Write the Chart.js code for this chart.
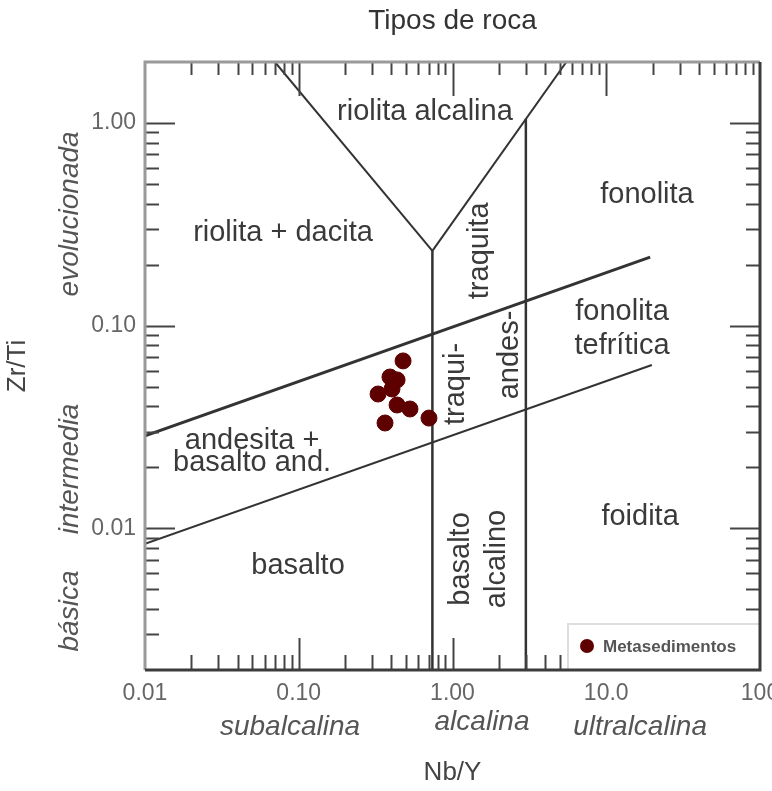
<!DOCTYPE html>
<html><head><meta charset="utf-8">
<script src="https://cdn.jsdelivr.net/npm/chart.js@4/dist/chart.umd.min.js"></script>
<style>html,body{margin:0;padding:0;background:#fff}canvas{display:block}</style>
</head><body>
<canvas id="c" width="772" height="791"></canvas>
<script>
// ---- data ----
const xTickValues = [0.01, 0.1, 1, 10, 100];
const xTickLabels = ['0.01', '0.10', '1.00', '10.0', '100'];
const yTickValues = [0.01, 0.1, 1];
const yTickLabels = ['0.01', '0.10', '1.00'];

const seriesName = 'Metasedimentos';
const sampleNbY  = [0.477, 0.392, 0.436, 0.328, 0.404, 0.436, 0.529, 0.703, 0.364];
const sampleZrTi = [0.0670, 0.0558, 0.0540, 0.0460, 0.0487, 0.0406, 0.0388, 0.0350, 0.0331];

// field boundaries (Nb/Y, Zr/Ti)
const vLeftX   = [0.070, 0.74];  const vLeftY   = [2.0, 0.234];
const vRightX  = [0.74, 5.5];    const vRightY  = [0.234, 2.0];
const alkX     = [0.74, 0.74];   const alkY     = [0.234, 0.002];
const ultraX   = [3.0, 3.0];     const ultraY   = [1.05, 0.002];
const upperX   = [0.01, 19.3];   const upperY   = [0.0286, 0.218];
const lowerX   = [0.01, 19.8];   const lowerY   = [0.00838, 0.064];

// field names (text, Nb/Y, Zr/Ti, rotated)
const fieldText = ['riolita alcalina', 'riolita + dacita', 'fonolita', 'traquita', 'andes-', 'traqui-',
  'fonolita', 'tefrítica', 'andesita +', 'basalto and.', 'basalto', 'basalto', 'alcalino', 'foidita'];
const fieldX = [0.662, 0.079, 18.4, 1.51, 2.37, 1.054, 12.66, 12.66, 0.0497, 0.0497, 0.0989, 1.135, 1.946, 16.6];
const fieldY = [1.133, 0.2867, 0.441, 0.234, 0.0717, 0.0516, 0.1168, 0.0794, 0.0270, 0.0210, 0.00652, 0.00706, 0.00706, 0.01138];
const fieldRot = [0, 0, 0, 1, 1, 1, 0, 0, 0, 0, 0, 1, 1, 0];

// axis class names
const yClassText = ['evolucionada', 'intermedia', 'básica'];
const yClassY = [0.356, 0.01964, 0.00391];
const xClassText = ['subalcalina', 'alcalina', 'ultralcalina'];
const xClassX = [0.0877, 1.556, 16.6];

// ---- build ----
const pts = (xs, ys) => xs.map((x, i) => ({x, y: ys[i]}));
const lineDs = (xs, ys, w) => ({type: 'line', data: pts(xs, ys), borderColor: '#333', borderWidth: w,
  pointRadius: 0, pointHoverRadius: 0, fill: false, tension: 0, showLine: true, order: 2});

const FONT = "'Liberation Sans', Arial, sans-serif";

const ticksInside = {
  id: 'ticksInside',
  afterDatasetsDraw(chart) {
    const {ctx, chartArea: a, scales: {x, y}} = chart;
    ctx.save();
    ctx.strokeStyle = '#444';
    ctx.lineWidth = 2;
    const decadesX = [0.01, 0.1, 1, 10];
    decadesX.forEach(d => {
      for (let m = 1; m <= 9; m++) {
        const v = d * m;
        if (v <= x.min || v >= x.max) continue;
        const px = Math.round(x.getPixelForValue(v)) + 0.5;
        const L = m === 1 ? 32 : 15;
        ctx.beginPath(); ctx.moveTo(px, a.bottom); ctx.lineTo(px, a.bottom - L); ctx.stroke();
        ctx.beginPath(); ctx.moveTo(px, a.top); ctx.lineTo(px, a.top + (m === 1 ? 34 : 13)); ctx.stroke();
      }
    });
    const decadesY = [0.001, 0.01, 0.1, 1];
    decadesY.forEach(d => {
      for (let m = 1; m <= 9; m++) {
        const v = d * m;
        if (v <= y.min || v >= y.max) continue;
        const py = Math.round(y.getPixelForValue(v)) + 0.5;
        const L = m === 1 ? 30 : 14;
        ctx.beginPath(); ctx.moveTo(a.left, py); ctx.lineTo(a.left + L, py); ctx.stroke();
        ctx.beginPath(); ctx.moveTo(a.right, py); ctx.lineTo(a.right - L, py); ctx.stroke();
      }
    });
    ctx.restore();
  },
  afterDraw(chart) {
    const {ctx, chartArea: a, scales: {x, y}} = chart;
    ctx.save();
    // field labels
    ctx.fillStyle = '#3a3a3a';
    ctx.font = '29px ' + FONT;
    ctx.textAlign = 'center';
    ctx.textBaseline = 'middle';
    fieldText.forEach((t, i) => {
      const px = x.getPixelForValue(fieldX[i]);
      const py = y.getPixelForValue(fieldY[i]);
      ctx.save();
      ctx.translate(px, py);
      if (fieldRot[i]) ctx.rotate(-Math.PI / 2);
      ctx.fillText(t, 0, 0);
      ctx.restore();
    });
    // class labels
    ctx.fillStyle = '#555';
    ctx.font = 'italic 28px ' + FONT;
    yClassText.forEach((t, i) => {
      ctx.save();
      ctx.translate(a.left - 75, y.getPixelForValue(yClassY[i]));
      ctx.rotate(-Math.PI / 2);
      ctx.fillText(t, 0, 0);
      ctx.restore();
    });
    xClassText.forEach((t, i) => {
      ctx.fillText(t, x.getPixelForValue(xClassX[i]), a.bottom + (i === 1 ? 52 : 57));
    });
    // legend
    const ds = chart.data.datasets[0];
    const bx = a.right - 192, by = a.bottom - 46;
    ctx.fillStyle = '#fff';
    ctx.fillRect(bx, by, a.right - bx, a.bottom - by);
    ctx.strokeStyle = '#ddd';
    ctx.lineWidth = 2;
    ctx.strokeRect(bx, by, a.right - bx, a.bottom - by);
    ctx.fillStyle = ds.backgroundColor;
    ctx.beginPath(); ctx.arc(bx + 19, by + 22, 7, 0, Math.PI * 2); ctx.fill();
    ctx.fillStyle = '#555';
    ctx.font = 'bold 17px ' + FONT;
    ctx.textAlign = 'left';
    ctx.fillText(ds.label, bx + 35, by + 23);
    // frame
    ctx.lineWidth = 3;
    ctx.strokeStyle = '#9a9a9a';
    ctx.beginPath(); ctx.moveTo(a.left, a.bottom); ctx.lineTo(a.left, a.top); ctx.lineTo(a.right, a.top); ctx.stroke();
    ctx.strokeStyle = '#3c3c3c';
    ctx.beginPath(); ctx.moveTo(a.left, a.bottom); ctx.lineTo(a.right, a.bottom); ctx.lineTo(a.right, a.top); ctx.stroke();
    ctx.restore();
  }
};

new Chart(document.getElementById('c'), {
  type: 'scatter',
  data: {
    datasets: [
      {label: seriesName, data: pts(sampleNbY, sampleZrTi), backgroundColor: '#5e0000', borderColor: '#5e0000',
        pointRadius: 8, pointHoverRadius: 8, order: 1},
      lineDs(vLeftX, vLeftY, 2),
      lineDs(vRightX, vRightY, 2),
      lineDs(alkX, alkY, 2.5),
      lineDs(ultraX, ultraY, 2.5),
      lineDs(upperX, upperY, 3),
      lineDs(lowerX, lowerY, 2)
    ]
  },
  options: {
    responsive: false,
    animation: false,
    events: [],
    layout: {padding: {top: 0, right: 12, bottom: 0, left: 0}},
    plugins: {
      legend: {display: false},
      tooltip: {enabled: false},
      title: {display: true, fullSize: false, text: 'Tipos de roca', color: '#333',
        font: {family: FONT, size: 28, weight: 'normal'}, padding: {top: 4, bottom: 24.4}}
    },
    scales: {
      x: {
        type: 'logarithmic', min: 0.01, max: 100, position: 'bottom',
        grid: {display: false, drawTicks: false}, border: {display: false},
        afterBuildTicks: s => { s.ticks = xTickValues.map(v => ({value: v})); },
        afterFit: s => { s.height = 121; s.paddingLeft = 0; s.paddingRight = 0; },
        ticks: {callback: (v, i) => xTickLabels[i], color: '#666', padding: 10, maxRotation: 0,
          autoSkip: false, font: {family: FONT, size: 23}},
        title: {display: true, text: 'Nb/Y', color: '#444', font: {family: FONT, size: 26}, padding: {top: 0, bottom: 2.4}}
      },
      y: {
        type: 'logarithmic', min: 0.002, max: 2, position: 'left',
        grid: {display: false, drawTicks: false}, border: {display: false},
        afterBuildTicks: s => { s.ticks = yTickValues.map(v => ({value: v})); },
        afterFit: s => { s.width = 145; s.paddingTop = 0; s.paddingBottom = 0; },
        ticks: {callback: (v, i) => yTickLabels[i], color: '#666', padding: 9, autoSkip: false,
          font: {family: FONT, size: 23}},
        title: {display: true, text: 'Zr/Ti', color: '#444', font: {family: FONT, size: 26}, padding: {top: 2.4, bottom: 0}}
      }
    }
  },
  plugins: [ticksInside]
});
</script>
</body></html>
